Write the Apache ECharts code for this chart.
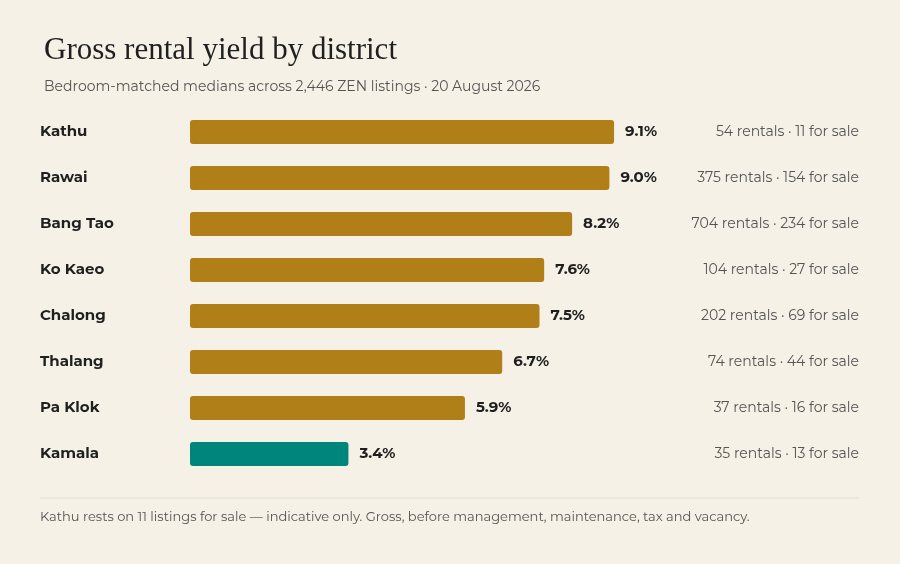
<!DOCTYPE html>
<html><head><meta charset="utf-8">
<script src="https://cdn.jsdelivr.net/npm/echarts@6/dist/echarts.min.js"></script>
<style>html,body{margin:0;background:#f5f1e7}#c{width:900px;height:564px}</style>
</head><body><div id="c"></div>
<script>
const districts = ['Kathu', 'Rawai', 'Bang Tao', 'Ko Kaeo', 'Chalong', 'Thalang', 'Pa Klok', 'Kamala'];
const yields = [9.1, 9.0, 8.2, 7.6, 7.5, 6.7, 5.9, 3.4];
const rentals = [54, 375, 704, 104, 202, 74, 37, 35];
const forSale = [11, 154, 234, 27, 69, 44, 16, 13];
const highlight = 'Kamala';

const chart = echarts.init(document.getElementById('c'));
const font = 'Montserrat, Inter, "Noto Sans", sans-serif';
chart.setOption({
    backgroundColor: '#f5f1e7',
    animation: false,
    title: {
        text: 'Gross rental yield by district', left: 39, top: 30,
        textStyle: { fontFamily: '"Liberation Serif", serif', fontWeight: 'normal', fontSize: 31, color: '#1f1f1f' },
        subtext: 'Bedroom-matched medians across 2,446 ZEN listings · 20 August 2026', itemGap: 14,
        subtextStyle: { fontFamily: font, fontSize: 14, color: '#555' }
    },
    grid: { left: 190, right: 244, top: 109, bottom: 87 },
    xAxis: { type: 'value', min: 0, max: 10, show: false },
    yAxis: [
        { type: 'category', data: districts, inverse: true, axisLine: { show: false }, axisTick: { show: false },
          axisLabel: { align: 'left', margin: 150, fontFamily: font, fontSize: 15, fontWeight: 'bold', color: '#1f1f1f' } },
        { type: 'category', data: districts.map((d, i) => rentals[i] + ' rentals · ' + forSale[i] + ' for sale'), inverse: true, position: 'right',
          axisLine: { show: false }, axisTick: { show: false },
          axisLabel: { align: 'right', margin: 203, fontFamily: font, fontSize: 14, color: '#555' } }
    ],
    series: [{
        type: 'bar', barWidth: 24,
        data: yields.map((v, i) => ({ value: v, itemStyle: { color: districts[i] === highlight ? '#00857a' : '#b07f17', borderRadius: 3 } })),
        label: { show: true, position: 'right', distance: 11, formatter: p => p.value.toFixed(1) + '%',
                 fontFamily: font, fontSize: 15, fontWeight: 'bold', color: '#1f1f1f' }
    }],
    graphic: [
        { type: 'line', shape: { x1: 40, y1: 498, x2: 859, y2: 498 }, style: { stroke: '#e3ddd0', lineWidth: 1 } },
        { type: 'text', left: 40, top: 511, style: { text: 'Kathu rests on 11 listings for sale — indicative only. Gross, before management, maintenance, tax and vacancy.',
          font: '13px ' + font, fill: '#555' } }
    ]
});
</script></body></html>
